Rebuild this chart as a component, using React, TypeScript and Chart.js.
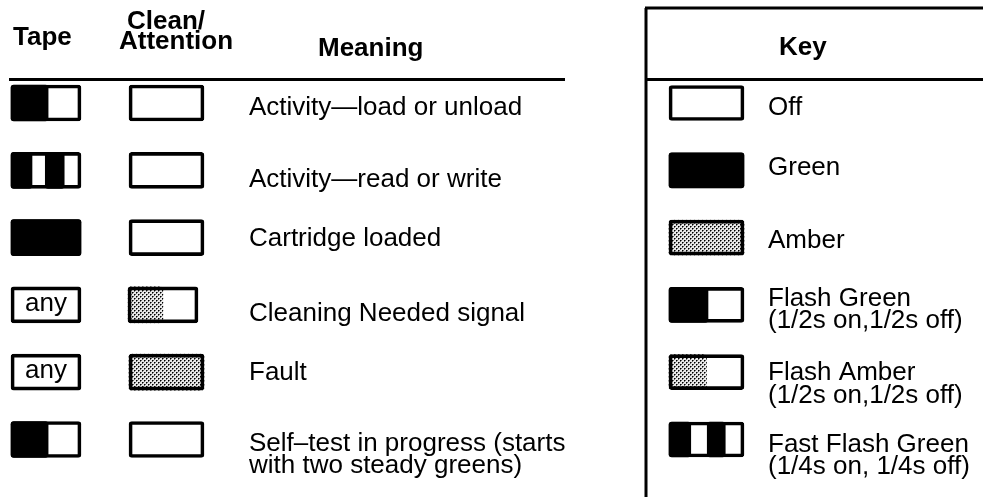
import React, { useEffect, useRef } from 'react';
import { Chart, registerables } from 'chart.js';

Chart.register(...registerables);

// ---------- data ----------
const TAPE_STATES = ['flash', 'fastFlash', 'green', 'any', 'any', 'flash'];
const CLEAN_STATES = ['off', 'off', 'off', 'flashAmber', 'amber', 'off'];
const MEANINGS = [
  ['Activity—load or unload'],
  ['Activity—read or write'],
  ['Cartridge loaded'],
  ['Cleaning Needed signal'],
  ['Fault'],
  ['Self–test in progress (starts', 'with two steady greens)'],
];
const KEY_STATES = ['off', 'green', 'amber', 'flashGreen', 'flashAmber', 'fastFlashGreen'];
const KEY_LABELS = [
  ['Off'],
  ['Green'],
  ['Amber'],
  ['Flash Green', '(1/2s on,1/2s off)'],
  ['Flash Amber', '(1/2s on,1/2s off)'],
  ['Fast Flash Green', '(1/4s on, 1/4s off)'],
];
const HEAD_TAPE = ['Tape'];
const HEAD_CLEAN = ['Clean/', 'Attention'];
const HEAD_MEANING = ['Meaning'];
const HEAD_KEY = ['Key'];
const ANY_TEXT = 'any';

// ---------- layout / style ----------
const W = 983;
const H = 497;
const ROW0 = 103;
const ROW_STEP = 67.3;
const Y_MIN = -ROW0 / ROW_STEP;
const Y_MAX = Y_MIN + H / ROW_STEP;

const COL_TAPE = { left: 11, width: 70 };
const COL_CLEAN = { left: 129, width: 75 };
const COL_KEY = { left: 669, width: 75 };

// LED glyph segments: [fromFraction, toFraction, colour kind]
const SEGMENTS: Record<string, [number, number, string][]> = {
  off: [],
  any: [],
  green: [[0, 1, 'G']],
  amber: [[0, 1, 'A']],
  flash: [[0, 0.53, 'G']],
  flashGreen: [[0, 0.52, 'G']],
  flashAmber: [[0, 0.5, 'A']],
  fastFlash: [[0, 0.3, 'G'], [0.49, 0.76, 'G']],
  fastFlashGreen: [[0, 0.29, 'G'], [0.51, 0.75, 'G']],
};

const FONT_FAMILY = '"Liberation Sans", Arial, Helvetica, sans-serif';
const BODY_FONT = `26px ${FONT_FAMILY}`;
const BOLD_FONT = `bold 26px ${FONT_FAMILY}`;
const LINE_GAP = 22.5;
const MEANING_X = 249;
const KEY_TEXT_X = 768;
const MEANING_BASE_OFF = [12, 17, 8, 16, 8, 11];
const KEY_BASE_OFF = [12, 5, 10, 1, 8, 12];

function colFor(col: { left: number; width: number }, state: string, isTable: boolean) {
  if (isTable && state === 'flashAmber') return { left: col.left - 1, width: 70 };
  return col;
}

function makeAmberPattern(): CanvasPattern | string {
  const c = document.createElement('canvas');
  c.width = 4;
  c.height = 4;
  const g = c.getContext('2d');
  if (!g) return '#aaa';
  g.fillStyle = '#e8e8e8';
  g.fillRect(0, 0, 4, 4);
  g.fillStyle = '#000000';
  g.fillRect(0, 0, 1, 1);
  g.fillRect(2, 2, 1, 1);
  g.fillStyle = '#666666';
  g.fillRect(1, 0, 1, 1);
  g.fillRect(0, 1, 1, 1);
  g.fillRect(3, 2, 1, 1);
  g.fillRect(2, 3, 1, 1);
  const p = g.createPattern(c, 'repeat');
  return p || '#aaa';
}

export default function App() {
  const ref = useRef<HTMLCanvasElement | null>(null);

  useEffect(() => {
    const canvas = ref.current;
    if (!canvas) return;
    const amber = makeAmberPattern();

    const outline = (col: any, states: string[], thick: number, isTable: boolean) => ({
      type: 'bar' as const,
      data: states.map((s, i) => {
        const c = colFor(col, s, isTable);
        return { y: i, x: [c.left, c.left + c.width] };
      }),
      backgroundColor: 'rgba(0,0,0,0)',
      borderColor: '#000',
      borderWidth: 3,
      borderRadius: 3,
      borderSkipped: false,
      barThickness: thick,
      grouped: false,
      order: 0,
    });

    const segments = (col: any, states: string[], slot: number, thick: number, isTable: boolean) => {
      const data: any[] = [];
      const colors: any[] = [];
      states.forEach((s, i) => {
        const seg = SEGMENTS[s][slot];
        if (!seg) return;
        const c = colFor(col, s, isTable);
        data.push({ y: i, x: [c.left + seg[0] * c.width, c.left + seg[1] * c.width] });
        colors.push(seg[2] === 'A' ? amber : '#000');
      });
      return {
        type: 'bar' as const,
        data,
        backgroundColor: colors,
        borderWidth: 0,
        borderRadius: 3,
        borderSkipped: false,
        barThickness: thick,
        grouped: false,
        order: 1,
      };
    };

    const textPlugin = {
      id: 'tableText',
      afterDatasetsDraw(chart: any) {
        const { ctx } = chart;
        const xs = chart.scales.x;
        const ys = chart.scales.y;
        const px = (v: number) => xs.getPixelForValue(v);
        const rowY = (i: number) => ys.getPixelForValue(i);
        ctx.save();
        ctx.fillStyle = '#000';
        ctx.strokeStyle = '#000';
        ctx.textBaseline = 'alphabetic';

        // rules
        ctx.lineWidth = 3;
        ctx.beginPath();
        ctx.moveTo(px(9), 79.5);
        ctx.lineTo(px(565), 79.5);
        ctx.moveTo(px(645), 8);
        ctx.lineTo(px(983), 8);
        ctx.moveTo(px(646), 8);
        ctx.lineTo(px(646), H);
        ctx.moveTo(px(645), 79.5);
        ctx.lineTo(px(983), 79.5);
        ctx.stroke();

        // headers
        ctx.font = BOLD_FONT;
        ctx.textAlign = 'left';
        ctx.fillText(HEAD_TAPE[0], px(13), 45);
        ctx.fillText(HEAD_CLEAN[0], px(127), 29);
        ctx.fillText(HEAD_CLEAN[1], px(119), 49);
        ctx.fillText(HEAD_MEANING[0], px(318), 56);
        ctx.fillText(HEAD_KEY[0], px(779), 55);

        // meanings
        ctx.font = BODY_FONT;
        MEANINGS.forEach((lines, i) => {
          const b = rowY(i) + MEANING_BASE_OFF[i];
          lines.forEach((t, k) => ctx.fillText(t, px(MEANING_X), b + k * LINE_GAP));
        });
        KEY_LABELS.forEach((lines, i) => {
          const b = rowY(i) + KEY_BASE_OFF[i];
          lines.forEach((t, k) => ctx.fillText(t, px(KEY_TEXT_X), b + k * LINE_GAP));
        });

        // "any" labels
        ctx.textAlign = 'center';
        TAPE_STATES.forEach((s, i) => {
          if (s !== 'any') return;
          ctx.fillText(ANY_TEXT, px(COL_TAPE.left + COL_TAPE.width / 2), rowY(i) + 6);
        });
        ctx.restore();
      },
    };

    const chart = new Chart(canvas, {
      type: 'bar',
      data: {
        datasets: [
          outline(COL_TAPE, TAPE_STATES, 36, true),
          outline(COL_CLEAN, CLEAN_STATES, 36, true),
          outline(COL_KEY, KEY_STATES, 35, false),
          segments(COL_TAPE, TAPE_STATES, 0, 36, true),
          segments(COL_TAPE, TAPE_STATES, 1, 36, true),
          segments(COL_CLEAN, CLEAN_STATES, 0, 36, true),
          segments(COL_KEY, KEY_STATES, 0, 35, false),
          segments(COL_KEY, KEY_STATES, 1, 35, false),
        ] as any,
      },
      options: {
        indexAxis: 'y',
        animation: false,
        responsive: false,
        events: [],
        layout: { padding: 0 },
        plugins: { legend: { display: false }, tooltip: { enabled: false } },
        scales: {
          x: { type: 'linear', min: 0, max: W, display: false, offset: false },
          y: { type: 'linear', min: Y_MIN, max: Y_MAX, reverse: true, display: false, offset: false },
        },
      } as any,
      plugins: [textPlugin],
    });
    return () => chart.destroy();
  }, []);

  return (
    <div style={{ position: 'fixed', left: 0, top: 0, width: W, height: H, background: '#fff' }}>
      <canvas ref={ref} width={W} height={H} style={{ display: 'block', width: W, height: H }} />
    </div>
  );
}
